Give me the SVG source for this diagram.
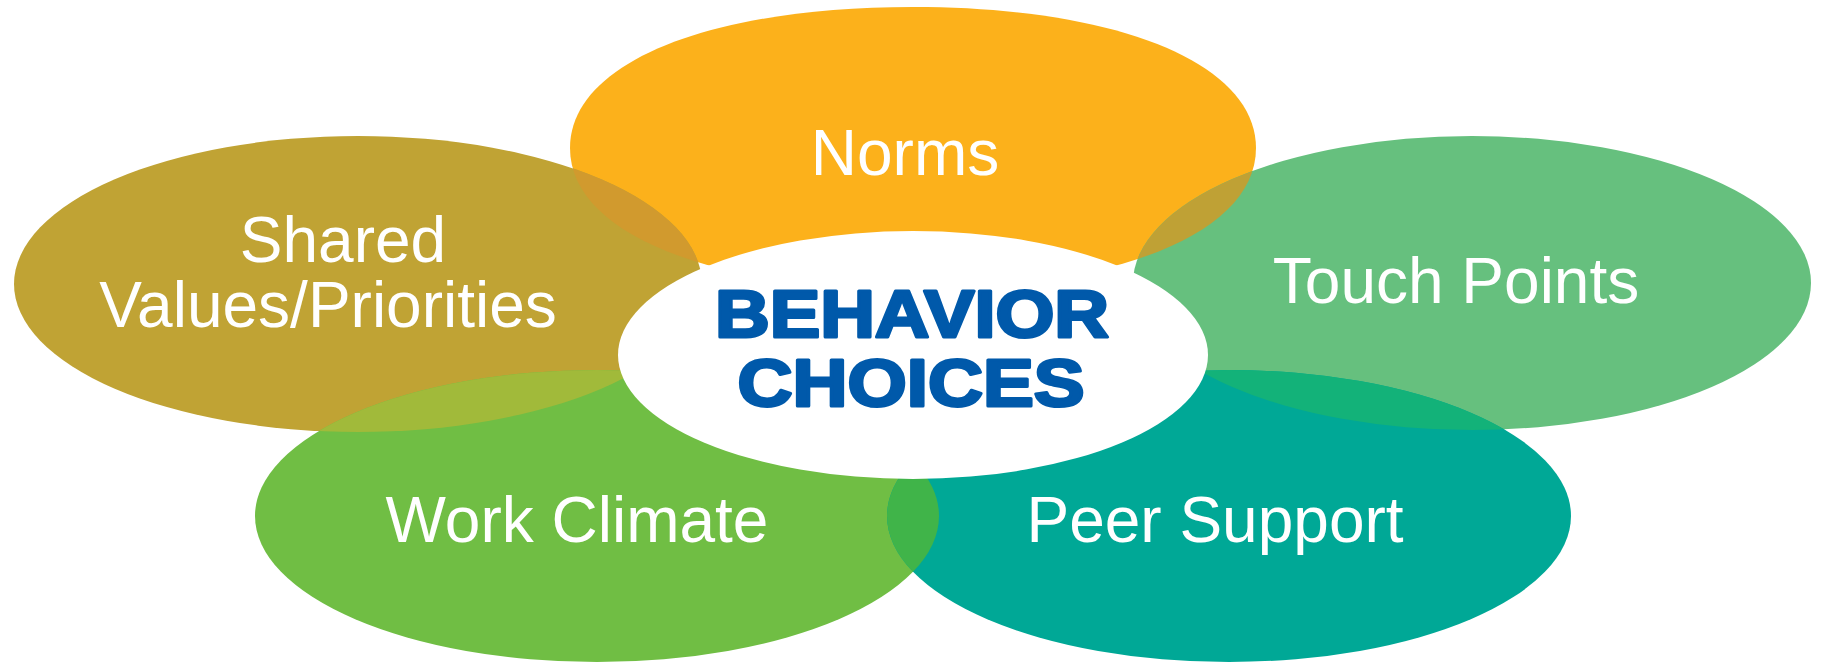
<svg xmlns="http://www.w3.org/2000/svg" width="1823" height="663" viewBox="0 0 1823 663">
<style>
.lbl{font-family:"Liberation Sans",Arial,Helvetica,sans-serif;font-size:64px;fill:#ffffff;text-anchor:middle}
.core{font-family:"Liberation Sans",Arial,Helvetica,sans-serif;font-weight:bold;font-size:66px;fill:#0059AA;stroke:#0059AA;stroke-width:3;stroke-linejoin:round;text-anchor:middle}
</style>
<defs>
<path id="shNorms" d="M570,148 C570,63.4 707.2,7 913,7 C1118.8,7 1256,63.4 1256,148 C1256,232.6 1118.8,289 913,289 C707.2,289 570,232.6 570,148Z"/>
<clipPath id="cNorms"><use href="#shNorms"/></clipPath>
<clipPath id="cShared"><ellipse cx="358" cy="284" rx="344" ry="148"/></clipPath>
<clipPath id="cTouch"><ellipse cx="1472" cy="283" rx="339" ry="147"/></clipPath>
<clipPath id="cWork"><ellipse cx="597" cy="516" rx="342" ry="146"/></clipPath>
</defs>
<rect width="1823" height="663" fill="#ffffff"/>
<g id="node-norms">
<use href="#shNorms" fill="#FCB11B"/>
<text class="lbl" x="905" y="175">Norms</text>
</g>
<g id="node-shared">
<ellipse cx="358" cy="284" rx="344" ry="148" fill="#C0A334"/>
<text class="lbl" x="343" y="262">Shared</text>
<text class="lbl" x="328" y="327">Values/Priorities</text>
</g>
<g id="node-touch">
<ellipse cx="1472" cy="283" rx="339" ry="147" fill="#66C07E"/>
<text class="lbl" x="1456" y="303">Touch Points</text>
</g>
<g id="node-work">
<ellipse cx="597" cy="516" rx="342" ry="146" fill="#70BE44"/>
<text class="lbl" x="577" y="542">Work Climate</text>
</g>
<g id="node-peer">
<ellipse cx="1229" cy="516" rx="342" ry="146" fill="#00A896"/>
<text class="lbl" x="1215" y="542">Peer Support</text>
</g>
<g id="overlaps">
<ellipse cx="358" cy="284" rx="344" ry="148" fill="#D19A2E" clip-path="url(#cNorms)"/>
<ellipse cx="1472" cy="283" rx="339" ry="147" fill="#BFA135" clip-path="url(#cNorms)"/>
<ellipse cx="597" cy="516" rx="342" ry="146" fill="#A1BA3A" clip-path="url(#cShared)"/>
<ellipse cx="1229" cy="516" rx="342" ry="146" fill="#13B279" clip-path="url(#cTouch)"/>
<ellipse cx="1229" cy="516" rx="342" ry="146" fill="#40B449" clip-path="url(#cWork)"/>
</g>
<g id="node-center">
<ellipse cx="913" cy="355" rx="295" ry="124" fill="#ffffff"/>
<text class="core" x="912" y="337" textLength="394" lengthAdjust="spacingAndGlyphs">BEHAVIOR</text>
<text class="core" x="911" y="406" textLength="347" lengthAdjust="spacingAndGlyphs">CHOICES</text>
</g>
<g id="connectors"></g>
</svg>
